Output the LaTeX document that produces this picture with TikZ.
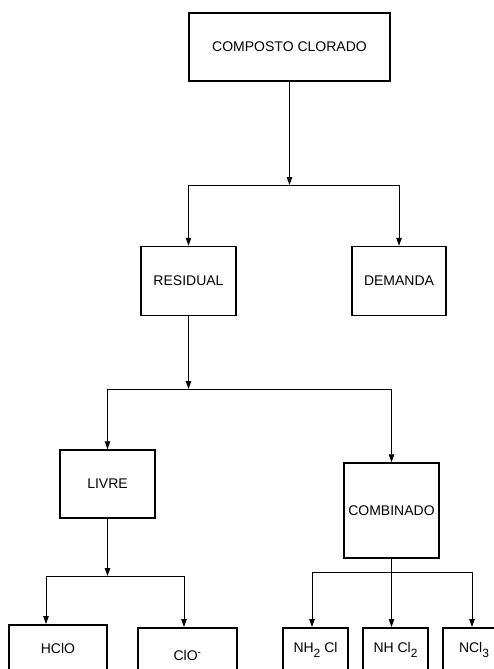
\documentclass[tikz,border=0pt]{standalone}
\usepackage{fontspec}
\setmainfont{Liberation Sans}
\usetikzlibrary{arrows.meta}

\newcommand{\chemsub}[1]{\raisebox{-0.35em}{\fontsize{12pt}{12pt}\selectfont #1}}

\begin{document}
\begin{tikzpicture}[
    x=1pt, y=-1pt,
    every node/.style={font=\fontsize{14pt}{16pt}\selectfont},
    unit/.style={
        draw,
        line width=1.5pt,
        align=center,
        inner sep=0pt,
        minimum width=95pt,
        minimum height=69pt
    },
    leaf/.style={
        draw,
        line width=1.5pt,
        inner sep=0pt,
        anchor=north,
        minimum width=65pt,
        text depth=40pt
    },
    arr/.style={-{Triangle[length=8pt,width=5.5pt]}, line width=0.9pt},
    link/.style={line width=0.9pt}
]

    \useasboundingbox (0,0) rectangle (494,669);
    \clip (0,0) rectangle (494,669);

    % Top
    \node[unit, minimum width=201pt, minimum height=68pt] (comp) at (289.5,47) {COMPOSTO CLORADO};

    % Second level
    \node[unit] (resid) at (188.5,281) {RESIDUAL};
    \node[unit, minimum width=94pt] (dem) at (399,281) {DEMANDA};

    % Third level
    \node[unit, minimum height=68pt] (livre) at (107.5,484) {LIVRE};
    \node[unit, minimum height=95pt] (comb) at (391.5,510.5) {COMBINADO};

    % Bottom row
    \node[leaf, minimum width=98pt, text height=29pt] (hclo) at (58,624) {HClO};
    \node[leaf, minimum width=99pt, text height=33pt] (clo) at (187.5,627) {ClO\textsuperscript{-}};
    \node[leaf, text height=25pt] (nhcl) at (315.5,627) {NH\chemsub{2} Cl};
    \node[leaf, text height=25pt] (nhcll) at (395.5,627) {NH Cl\chemsub{2}};
    \node[leaf, minimum width=62pt, text height=25pt] (ncl) at (474,627) {NCl\chemsub{3}};

    % Junctions
    \coordinate (j1) at (comp.south |- 0,185);
    \coordinate (j2) at (resid.south |- 0,389);
    \coordinate (j3) at (livre.south |- 0,576);
    \coordinate (j4) at (comb.south |- 0,572);
    \coordinate (b1) at (46,576);
    \coordinate (b2) at (184,576);
    \coordinate (c1) at (312,572);
    \coordinate (c3) at (472,572);

    % Arrows
    \draw[arr] (comp.south) -- (j1);
    \draw[link] (resid.north |- j1) -- (dem.north |- j1);
    \draw[arr] (resid.north |- j1) -- (resid.north);
    \draw[arr] (dem.north |- j1) -- (dem.north);

    \draw[arr] (resid.south) -- (j2);
    \draw[link] (livre.north |- j2) -- (comb.north |- j2);
    \draw[arr] (livre.north |- j2) -- (livre.north);
    \draw[arr] (comb.north |- j2) -- (comb.north);

    \draw[arr] (livre.south) -- (j3);
    \draw[link] (b1) -- (b2);
    \draw[arr] (b1) -- (b1 |- hclo.north);
    \draw[arr] (b2) -- (b2 |- clo.north);

    \draw[arr] (comb.south) -- (comb.south |- nhcll.north);
    \draw[link] (c1) -- (c3);
    \draw[arr] (c1) -- (c1 |- nhcl.north);
    \draw[arr] (c3) -- (c3 |- ncl.north);

\end{tikzpicture}
\end{document}
